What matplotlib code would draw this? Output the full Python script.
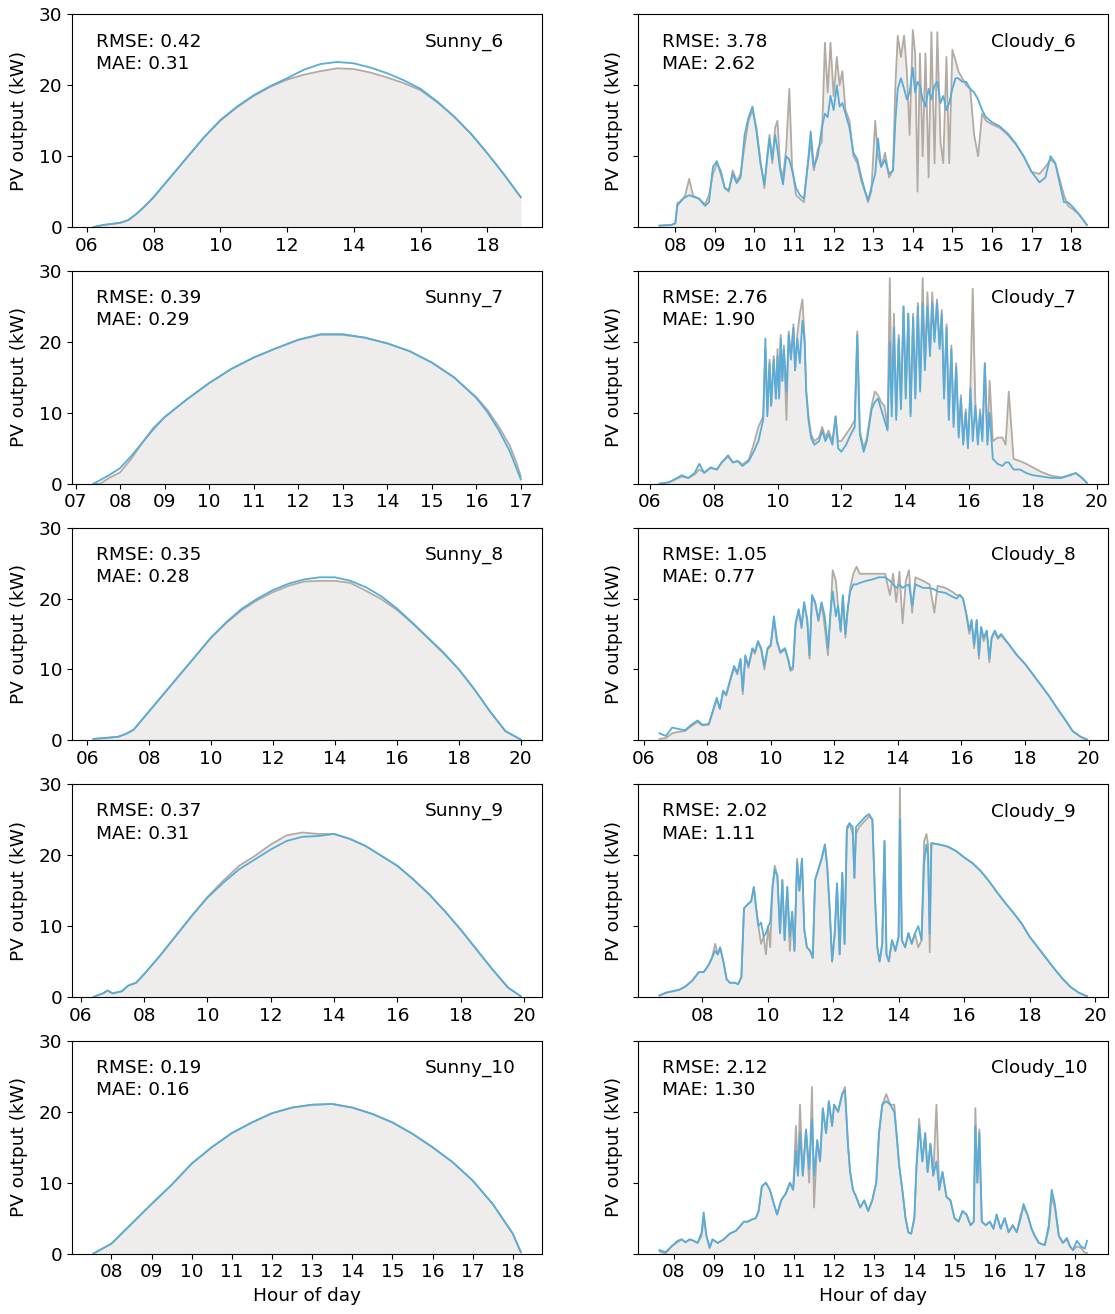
import matplotlib
matplotlib.use("Agg")
import matplotlib.pyplot as plt
from matplotlib.ticker import MultipleLocator, FuncFormatter

plt.rcParams["font.family"] = "DejaVu Sans"
plt.rcParams["font.size"] = 13.3

# ---- sunny days: hour of day, measured output, model output (kW) ----
sunny6_t = [6.2, 6.5, 7.0, 7.25, 7.5, 7.75, 8.0, 8.5, 9.0, 9.5, 10.0, 10.5, 11.0, 11.5, 12.0,
            12.5, 13.0, 13.5, 14.0, 14.5, 15.0, 15.5, 16.0, 16.5, 17.0, 17.5, 18.0, 18.5, 19.0]
sunny6_act = [0.0, 0.3, 0.6, 1.0, 1.9, 3.0, 4.2, 7.0, 9.8, 12.6, 15.0, 16.9, 18.5, 19.8, 20.8,
              21.5, 22.0, 22.4, 22.3, 21.8, 21.1, 20.3, 19.3, 17.6, 15.6, 13.2, 10.4, 7.4, 4.2]
sunny6_pred = [0.0, 0.3, 0.6, 1.0, 1.9, 3.0, 4.2, 7.0, 9.8, 12.6, 15.1, 17.0, 18.6, 19.9, 21.0,
               22.2, 23.0, 23.3, 23.1, 22.5, 21.7, 20.7, 19.5, 17.7, 15.6, 13.2, 10.4, 7.4, 4.2]

sunny7_t = [7.4, 7.55, 7.75, 8.0, 8.25, 8.5, 8.75, 9.0, 9.5, 10.0, 10.5, 11.0, 11.5, 12.0, 12.5,
            13.0, 13.5, 14.0, 14.5, 15.0, 15.5, 16.0, 16.25, 16.5, 16.75, 16.9, 17.0]
sunny7_act = [0.0, 0.0, 0.8, 1.6, 3.5, 5.8, 7.9, 9.4, 11.9, 14.2, 16.2, 17.8, 19.1, 20.3, 21.0,
              21.0, 20.6, 19.8, 18.7, 17.1, 15.0, 12.2, 10.4, 8.1, 5.4, 3.0, 1.0]
sunny7_pred = [0.0, 0.5, 1.2, 2.2, 3.9, 5.8, 7.7, 9.4, 11.9, 14.2, 16.2, 17.8, 19.1, 20.3, 21.1,
               21.1, 20.6, 19.8, 18.7, 17.1, 15.0, 12.1, 10.1, 7.6, 4.6, 2.2, 0.6]

sunny8_t = [6.2, 6.5, 7.0, 7.25, 7.5, 8.0, 8.5, 9.0, 9.5, 10.0, 10.5, 11.0, 11.5, 12.0, 12.5,
            13.0, 13.5, 14.0, 14.5, 15.0, 15.5, 16.0, 16.5, 17.0, 17.5, 18.0, 18.5, 19.0, 19.5, 20.0]
sunny8_act = [0.2, 0.3, 0.5, 0.9, 1.5, 4.1, 6.7, 9.3, 11.9, 14.5, 16.6, 18.4, 19.8, 20.9, 21.8,
              22.4, 22.5, 22.5, 22.2, 21.1, 19.9, 18.4, 16.5, 14.4, 12.3, 10.0, 7.2, 4.1, 1.3, 0.1]
sunny8_pred = [0.2, 0.3, 0.5, 0.9, 1.5, 4.1, 6.7, 9.3, 11.9, 14.5, 16.7, 18.6, 20.0, 21.2, 22.1,
               22.7, 23.0, 23.0, 22.5, 21.6, 20.3, 18.6, 16.6, 14.5, 12.4, 10.0, 7.2, 4.1, 1.3, 0.1]

sunny9_t = [6.4, 6.7, 6.85, 7.0, 7.3, 7.5, 7.75, 8.0, 8.5, 9.0, 9.5, 10.0, 10.5, 11.0, 11.5,
            12.0, 12.5, 13.0, 13.5, 14.0, 14.5, 15.0, 15.5, 16.0, 16.5, 17.0, 17.5, 18.0, 18.5,
            19.0, 19.5, 19.9]
sunny9_act = [0.0, 0.5, 0.9, 0.5, 0.8, 1.6, 2.0, 3.2, 5.8, 8.6, 11.4, 14.1, 16.4, 18.5, 19.9,
              21.5, 22.8, 23.2, 23.0, 23.0, 22.3, 21.3, 19.9, 18.5, 16.6, 14.5, 12.1, 9.5, 6.7,
              3.9, 1.3, 0.1]
sunny9_pred = [0.0, 0.5, 0.9, 0.5, 0.8, 1.6, 2.0, 3.2, 5.8, 8.6, 11.4, 14.0, 16.1, 18.0, 19.4,
               20.8, 22.0, 22.6, 22.7, 23.0, 22.3, 21.3, 19.9, 18.5, 16.6, 14.5, 12.1, 9.5, 6.7,
               3.9, 1.3, 0.1]

sunny10_t = [7.55, 8.0, 8.5, 9.0, 9.5, 10.0, 10.5, 11.0, 11.5, 12.0, 12.5, 13.0, 13.5, 14.0,
             14.5, 15.0, 15.5, 16.0, 16.5, 17.0, 17.5, 18.0, 18.2]
sunny10_act = [0.0, 1.4, 4.2, 7.0, 9.7, 12.7, 15.0, 17.0, 18.5, 19.8, 20.6, 21.0, 21.1, 20.6,
               19.7, 18.5, 16.9, 15.0, 12.9, 10.3, 7.0, 2.8, 0.2]
sunny10_pred = [0.0, 1.4, 4.2, 7.0, 9.7, 12.7, 15.0, 17.0, 18.5, 19.8, 20.6, 21.0, 21.1, 20.6,
                19.7, 18.5, 16.9, 15.0, 12.9, 10.3, 7.0, 2.8, 0.2]

# ---- cloudy days ----
cloudy6_t = [7.6, 7.9, 8.0, 8.05, 8.15, 8.25, 8.35, 8.45, 8.6, 8.75, 8.85, 8.95, 9.05, 9.15, 9.25,
             9.35, 9.45, 9.55, 9.65, 9.75, 9.85, 9.95, 10.05, 10.15, 10.25, 10.32, 10.38, 10.45,
             10.52, 10.58, 10.65, 10.72, 10.8, 10.88, 10.95, 11.05, 11.15, 11.25, 11.35, 11.42,
             11.5, 11.6, 11.7, 11.78, 11.85, 11.92, 12.0, 12.08, 12.15, 12.22, 12.3, 12.4, 12.5,
             12.6, 12.7, 12.8, 12.87, 12.95, 13.05, 13.12, 13.2, 13.3, 13.4, 13.5, 13.56, 13.62,
             13.7, 13.78, 13.85, 13.92, 14.0, 14.06, 14.12, 14.18, 14.25, 14.32, 14.4, 14.47,
             14.55, 14.62, 14.7, 14.77, 14.85, 14.92, 15.0, 15.08, 15.15, 15.25, 15.35, 15.45,
             15.55, 15.65, 15.75, 15.85, 16.0, 16.2, 16.4, 16.6, 16.8, 17.0, 17.2, 17.35, 17.48,
             17.6, 17.72, 17.82, 17.92, 18.05, 18.2, 18.4]
cloudy6_act = [0.2, 0.3, 0.6, 3.4, 3.6, 4.5, 6.8, 4.4, 4.0, 3.2, 4.5, 7.5, 9.0, 8.0, 5.5,
               5.0, 8.0, 6.5, 7.5, 11.5, 15.0, 16.5, 14.0, 9.5, 5.5, 10.0, 13.0, 9.0,
               14.0, 15.0, 8.5, 7.0, 11.0, 19.5, 8.5, 4.5, 4.0, 3.5, 9.0, 12.0,
               8.0, 11.0, 12.0, 26.0, 19.0, 26.0, 18.5, 24.0, 20.0, 22.0, 16.5, 15.0, 10.0,
               9.0, 6.5, 4.8, 3.5, 5.0, 15.0, 10.0, 8.5, 10.5, 7.0, 8.0, 20.0, 27.0,
               24.0, 27.0, 22.0, 13.0, 27.8, 24.5, 5.0, 24.5, 10.0, 24.5, 7.0, 27.5,
               9.0, 27.5, 12.0, 9.0, 24.0, 9.0, 25.0, 23.5, 22.0, 21.0, 20.0, 19.5,
               13.0, 10.0, 16.0, 15.0, 14.5, 14.0, 13.0, 11.7, 10.0, 7.8, 7.5, 8.5, 9.5,
               9.0, 6.5, 4.5, 3.0, 2.5, 1.8, 0.3]
cloudy6_pred = [0.2, 0.3, 0.5, 3.0, 3.8, 4.2, 4.5, 4.3, 4.0, 3.0, 3.5, 8.5, 9.3, 7.5, 5.5,
                5.2, 7.5, 6.2, 7.0, 13.0, 15.5, 17.0, 13.5, 9.0, 6.0, 9.5, 12.5, 9.5,
                13.0, 11.0, 8.0, 6.0, 10.0, 9.5, 8.0, 5.5, 4.5, 4.0, 9.0, 13.5,
                8.5, 10.0, 14.0, 16.0, 15.5, 18.5, 16.5, 20.0, 17.0, 17.5, 16.0, 14.0, 10.5,
                9.5, 7.0, 5.0, 3.8, 5.5, 7.5, 12.5, 8.5, 9.5, 7.5, 8.0, 15.0, 19.5,
                21.0, 19.5, 18.0, 19.0, 22.5, 19.0, 20.5, 20.0, 18.0, 17.0, 19.5, 18.0,
                20.0, 20.5, 17.5, 18.5, 16.5, 17.5, 19.5, 21.0, 21.0, 20.5, 20.5, 19.5,
                19.0, 18.0, 16.5, 15.5, 14.8, 14.2, 13.2, 11.8, 10.0, 7.8, 6.3, 7.0, 10.0,
                9.0, 6.0, 3.5, 3.5, 2.8, 1.8, 0.3]

cloudy7_t = [6.3, 6.6, 7.0, 7.2, 7.4, 7.55, 7.7, 7.9, 8.1, 8.25, 8.45, 8.6, 8.75, 8.9, 9.1,
             9.25, 9.4, 9.55, 9.62, 9.68, 9.75, 9.8, 9.88, 9.95, 10.0, 10.05, 10.1, 10.15, 10.2,
             10.28, 10.35, 10.42, 10.5, 10.55, 10.62, 10.7, 10.78, 10.85, 10.9, 10.97, 11.05,
             11.15, 11.3, 11.4, 11.5, 11.6, 11.72, 11.82, 11.9, 12.0, 12.15, 12.3, 12.42, 12.5,
             12.58, 12.7, 12.8, 12.95, 13.05, 13.15, 13.25, 13.35, 13.45, 13.52, 13.58, 13.65,
             13.72, 13.8, 13.87, 13.95, 14.02, 14.1, 14.17, 14.25, 14.32, 14.4, 14.47, 14.55,
             14.62, 14.7, 14.78, 14.85, 14.92, 15.0, 15.08, 15.15, 15.22, 15.3, 15.37, 15.45,
             15.52, 15.6, 15.68, 15.75, 15.82, 15.9, 15.97, 16.05, 16.12, 16.2, 16.28, 16.35,
             16.42, 16.5, 16.58, 16.65, 16.75, 16.9, 17.05, 17.15, 17.25, 17.4, 17.6, 17.8,
             18.0, 18.3, 18.6, 18.9, 19.2, 19.35, 19.55, 19.7]
cloudy7_act = [0.0, 0.2, 1.0, 0.8, 1.3, 2.0, 1.6, 2.2, 2.0, 3.0, 3.8, 3.0, 3.2, 2.7, 3.4,
               5.5, 8.0, 9.5, 19.0, 10.0, 17.5, 11.0, 18.0, 12.0, 19.0, 12.5, 21.0, 14.5, 19.5,
               9.0, 21.5, 18.0, 22.5, 16.0, 21.0, 24.0, 26.0, 20.5, 13.0, 9.5, 7.0,
               6.0, 6.5, 8.0, 6.5, 7.5, 6.0, 9.5, 6.0, 6.0, 7.0, 8.0, 9.0, 21.5,
               7.5, 5.0, 6.5, 11.0, 13.0, 12.5, 11.5, 11.0, 8.0, 29.0, 11.0, 24.0,
               9.5, 21.0, 11.0, 25.0, 12.5, 24.0, 10.0, 24.0, 12.5, 25.5, 13.5, 29.0,
               16.5, 27.0, 18.5, 27.0, 20.5, 26.0, 19.5, 24.5, 12.5, 22.5, 9.5, 19.5,
               8.5, 17.0, 7.0, 12.5, 6.0, 10.5, 5.5, 14.0, 27.5, 11.5, 6.0, 10.5,
               6.5, 17.0, 6.0, 14.5, 6.0, 6.5, 6.5, 5.5, 13.0, 3.5, 3.2, 2.8,
               2.3, 1.6, 1.1, 0.9, 1.2, 1.5, 0.8, 0.1]
cloudy7_pred = [0.0, 0.2, 1.2, 0.8, 1.5, 2.8, 1.5, 2.3, 2.0, 3.0, 4.0, 3.0, 3.2, 2.5, 3.2,
                4.5, 6.0, 9.0, 20.5, 9.5, 17.0, 11.0, 17.5, 12.0, 18.0, 12.0, 20.5, 14.5, 19.0,
                13.0, 21.0, 17.5, 22.0, 16.0, 20.5, 17.0, 23.0, 20.0, 13.0, 9.0, 6.5,
                5.5, 6.0, 7.5, 6.0, 7.0, 5.5, 9.5, 5.0, 4.5, 5.5, 7.0, 8.0, 21.0,
                7.0, 4.5, 6.0, 10.5, 11.5, 12.0, 10.5, 9.0, 7.5, 20.0, 9.5, 22.0,
                9.0, 20.5, 10.5, 25.0, 12.0, 24.0, 9.5, 23.5, 12.0, 25.0, 13.0, 25.5,
                16.0, 25.0, 18.0, 25.5, 20.0, 25.5, 19.0, 24.0, 12.0, 22.0, 9.0, 19.0,
                8.0, 16.5, 6.5, 12.0, 5.5, 10.0, 5.0, 13.5, 6.0, 11.0, 5.5, 10.0,
                6.0, 17.0, 5.5, 10.0, 3.5, 2.8, 2.5, 3.0, 3.0, 2.0, 2.0, 1.5,
                1.2, 1.0, 0.8, 0.8, 1.3, 1.5, 0.8, 0.1]

cloudy8_t = [6.5, 6.7, 6.9, 7.1, 7.3, 7.5, 7.7, 7.85, 8.05, 8.2, 8.3, 8.4, 8.5, 8.6, 8.75,
             8.85, 8.95, 9.05, 9.12, 9.2, 9.3, 9.42, 9.5, 9.6, 9.7, 9.8, 9.9, 10.0, 10.1,
             10.2, 10.3, 10.45, 10.55, 10.62, 10.7, 10.78, 10.88, 10.97, 11.05, 11.15, 11.22,
             11.3, 11.4, 11.5, 11.6, 11.7, 11.8, 11.88, 11.95, 12.05, 12.12, 12.2, 12.27, 12.35,
             12.42, 12.5, 12.6, 12.7, 12.8, 13.0, 13.2, 13.4, 13.6, 13.75, 13.85, 13.95, 14.05,
             14.15, 14.25, 14.35, 14.45, 14.55, 14.8, 15.0, 15.15, 15.25, 15.5, 15.7, 15.85,
             15.95, 16.05, 16.15, 16.25, 16.32, 16.4, 16.48, 16.55, 16.62, 16.7, 16.8, 16.88,
             16.95, 17.05, 17.15, 17.25, 17.5, 17.75, 18.0, 18.25, 18.5, 18.75, 19.0, 19.25,
             19.5, 19.75, 19.95]
cloudy8_act = [0.2, 0.3, 1.0, 1.2, 1.3, 2.0, 2.6, 2.1, 2.2, 4.3, 5.8, 4.4, 6.8, 6.3, 8.8,
               10.2, 9.3, 11.2, 6.5, 11.8, 10.2, 12.8, 12.2, 13.8, 12.8, 10.0, 12.8, 13.3, 17.0,
               13.8, 12.3, 12.8, 11.3, 9.8, 10.0, 16.2, 18.3, 15.8, 19.3, 16.8, 11.5,
               20.3, 19.3, 16.8, 19.3, 16.0, 12.0, 17.8, 24.0, 22.5, 18.8, 15.3, 20.3, 14.5,
               18.3, 21.5, 23.5, 24.5, 23.5, 23.5, 23.5, 23.5, 23.5, 20.5, 23.5, 19.5, 23.8,
               16.5, 22.5, 24.0, 18.0, 23.0, 22.5, 22.0, 18.0, 21.8, 21.5, 21.0, 20.5,
               20.5, 20.0, 17.8, 15.0, 16.8, 13.0, 16.8, 11.5, 15.8, 14.0, 15.3, 11.0,
               14.3, 15.3, 14.3, 14.8, 13.5, 12.0, 10.8, 9.3, 7.8, 6.3, 4.6, 3.0,
               1.3, 0.5, 0.1]
cloudy8_pred = [1.0, 0.6, 1.8, 1.6, 1.4, 2.2, 2.8, 2.2, 2.3, 4.5, 6.0, 4.5, 7.0, 6.5, 9.0,
                10.5, 9.5, 11.5, 7.0, 12.0, 10.5, 13.0, 12.5, 14.0, 13.0, 10.5, 13.0, 13.5, 17.5,
                14.0, 12.5, 13.0, 11.5, 10.0, 10.4, 16.5, 18.5, 16.0, 19.5, 17.0, 12.0,
                20.5, 19.5, 17.0, 19.5, 17.5, 13.0, 18.0, 21.0, 17.5, 19.0, 15.5, 20.5, 15.0,
                18.5, 21.0, 22.0, 22.0, 22.2, 22.5, 22.7, 23.0, 23.0, 22.5, 22.0, 21.5, 22.0,
                21.5, 21.8, 22.0, 19.0, 22.0, 21.5, 21.5, 21.3, 21.0, 20.8, 20.3, 20.0,
                20.5, 20.0, 18.0, 15.5, 17.0, 13.5, 17.0, 12.0, 16.0, 14.5, 15.5, 11.5,
                14.5, 15.5, 14.5, 15.0, 13.5, 12.0, 10.8, 9.3, 7.8, 6.3, 4.6, 3.0,
                1.3, 0.5, 0.1]

cloudy9_t = [6.7, 6.9, 7.1, 7.3, 7.5, 7.7, 7.9, 8.05, 8.2, 8.3, 8.4, 8.48, 8.55, 8.65, 8.75,
             8.85, 9.0, 9.1, 9.2, 9.28, 9.38, 9.5, 9.58, 9.65, 9.72, 9.8, 9.88, 9.95, 10.02,
             10.08, 10.15, 10.22, 10.3, 10.38, 10.45, 10.52, 10.6, 10.68, 10.75, 10.82, 10.9,
             10.97, 11.05, 11.12, 11.2, 11.3, 11.38, 11.45, 11.55, 11.65, 11.75, 11.82, 11.9,
             11.97, 12.05, 12.12, 12.2, 12.28, 12.35, 12.42, 12.5, 12.6, 12.65, 12.7, 12.8,
             12.9, 13.0, 13.1, 13.2, 13.28, 13.35, 13.42, 13.5, 13.57, 13.63, 13.7, 13.8, 13.9,
             14.0, 14.04, 14.1, 14.2, 14.3, 14.4, 14.5, 14.6, 14.7, 14.78, 14.85, 14.9, 14.95,
             15.0, 15.25, 15.5, 15.75, 16.0, 16.25, 16.5, 16.75, 17.0, 17.25, 17.5, 17.75,
             18.0, 18.25, 18.5, 18.75, 19.0, 19.25, 19.5, 19.75]
cloudy9_act = [0.2, 0.6, 0.8, 1.0, 1.5, 2.3, 3.5, 3.5, 4.5, 5.5, 7.5, 6.0, 7.0, 5.0, 2.5,
               2.0, 2.0, 1.8, 2.8, 12.5, 13.0, 13.5, 15.5, 12.5, 10.0, 7.5, 8.5, 6.0, 10.0,
               7.0, 15.5, 18.5, 17.0, 9.0, 16.5, 8.0, 15.5, 6.5, 12.0, 6.5, 19.5,
               15.0, 19.5, 9.5, 7.0, 6.5, 5.5, 16.5, 18.0, 19.5, 21.5, 18.5, 12.0,
               5.0, 9.0, 16.0, 6.0, 17.5, 7.5, 24.0, 24.5, 23.0, 16.8, 23.0, 24.0,
               24.5, 25.0, 25.5, 25.0, 14.0, 7.0, 5.0, 7.5, 22.0, 6.0, 5.0, 8.0, 6.5,
               8.5, 29.5, 8.0, 7.0, 9.0, 7.5, 9.0, 7.0, 8.0, 22.0, 23.0, 21.5, 6.3,
               21.7, 21.5, 21.2, 20.6, 19.7, 18.9, 17.8, 16.4, 14.8, 13.3, 11.9, 10.4,
               8.5, 7.0, 5.5, 4.0, 2.6, 1.4, 0.6, 0.1]
cloudy9_pred = [0.2, 0.6, 0.8, 1.0, 1.5, 2.3, 3.5, 3.5, 4.5, 5.5, 6.5, 6.0, 7.0, 5.0, 2.5,
                2.0, 2.0, 1.8, 2.8, 12.5, 13.0, 13.5, 15.5, 12.5, 10.0, 10.5, 8.5, 9.0, 10.0,
                10.5, 15.5, 18.0, 17.0, 9.0, 16.5, 8.0, 15.5, 8.5, 12.0, 6.5, 19.0,
                15.0, 19.5, 9.5, 7.0, 6.5, 5.5, 16.5, 18.0, 19.5, 21.5, 18.5, 12.0,
                5.0, 9.0, 16.0, 6.0, 17.5, 7.5, 23.5, 24.5, 24.0, 16.8, 24.0, 24.5,
                25.0, 25.5, 25.8, 25.0, 14.0, 7.0, 5.0, 7.5, 22.0, 6.0, 5.0, 8.0, 6.5,
                8.5, 25.0, 8.0, 7.0, 9.0, 7.5, 9.0, 10.0, 8.0, 19.0, 21.5, 20.0, 8.9,
                21.7, 21.5, 21.2, 20.6, 19.7, 18.9, 17.8, 16.4, 14.8, 13.3, 11.9, 10.4,
                8.5, 7.0, 5.5, 4.0, 2.6, 1.4, 0.6, 0.1]

cloudy10_t = [7.65, 7.8, 7.95, 8.1, 8.2, 8.3, 8.4, 8.5, 8.6, 8.7, 8.75, 8.82, 8.9, 8.97, 9.1,
              9.25, 9.4, 9.55, 9.65, 9.75, 9.85, 9.95, 10.05, 10.12, 10.2, 10.3, 10.4, 10.5,
              10.58, 10.68, 10.8, 10.9, 10.98, 11.05, 11.1, 11.15, 11.22, 11.3, 11.38, 11.45,
              11.5, 11.58, 11.65, 11.72, 11.8, 11.87, 11.95, 12.0, 12.1, 12.2, 12.27, 12.35,
              12.4, 12.47, 12.55, 12.65, 12.75, 12.85, 12.95, 13.05, 13.12, 13.2, 13.3, 13.4,
              13.5, 13.57, 13.62, 13.7, 13.78, 13.85, 13.92, 14.0, 14.05, 14.12, 14.2, 14.27,
              14.33, 14.4, 14.47, 14.55, 14.62, 14.7, 14.8, 14.9, 15.0, 15.1, 15.2, 15.3, 15.4,
              15.48, 15.52, 15.57, 15.62, 15.68, 15.78, 15.88, 15.97, 16.05, 16.15, 16.25, 16.35,
              16.45, 16.55, 16.65, 16.72, 16.82, 16.92, 17.0, 17.1, 17.25, 17.35, 17.42, 17.5,
              17.6, 17.7, 17.8, 17.88, 17.95, 18.05, 18.15, 18.25, 18.3]
cloudy10_act = [0.3, 0.0, 1.0, 1.6, 2.0, 1.6, 2.0, 1.8, 1.5, 2.5, 5.0, 2.5, 0.8, 2.0, 1.5,
                2.0, 2.8, 3.2, 3.8, 4.5, 4.5, 4.8, 5.0, 6.0, 9.5, 10.0, 9.0, 7.0,
                5.5, 7.5, 8.5, 10.0, 9.0, 18.0, 11.0, 21.0, 11.0, 17.5, 10.0, 23.5,
                6.5, 16.0, 13.0, 20.5, 17.0, 21.5, 18.0, 21.0, 20.0, 22.5, 23.5, 15.0,
                11.5, 9.0, 8.0, 6.5, 7.5, 6.0, 7.5, 10.0, 17.0, 21.0, 22.5, 21.0,
                21.0, 16.0, 12.5, 9.0, 5.0, 3.0, 2.8, 5.0, 12.0, 19.0, 13.0, 17.0,
                11.5, 15.5, 11.0, 21.0, 9.0, 11.5, 8.0, 7.5, 5.0, 4.5, 6.0, 5.5, 4.0,
                4.5, 20.5, 10.0, 17.5, 4.5, 4.0, 4.5, 3.5, 5.5, 3.5, 5.0, 3.0,
                4.0, 3.0, 5.5, 6.5, 5.5, 3.5, 2.5, 1.5, 1.2, 3.5, 8.0, 6.5,
                2.5, 1.5, 2.0, 1.0, 0.5, 1.0, 0.8, 0.1, 0.1]
cloudy10_pred = [0.5, 0.2, 1.0, 1.8, 2.0, 1.6, 2.0, 1.8, 1.5, 3.0, 5.8, 2.5, 0.8, 2.0, 1.5,
                 2.0, 2.8, 3.2, 3.8, 4.5, 4.5, 4.8, 5.0, 6.0, 9.5, 10.0, 9.0, 7.0,
                 5.5, 7.5, 8.5, 10.0, 9.0, 14.5, 11.0, 17.0, 11.0, 17.5, 12.0, 19.0,
                 11.0, 16.0, 13.0, 20.5, 17.0, 21.5, 18.0, 21.0, 20.0, 22.5, 23.0, 15.0,
                 11.5, 9.0, 8.0, 6.5, 7.5, 6.0, 7.5, 10.0, 17.0, 21.0, 21.5, 21.0,
                 20.0, 16.0, 12.5, 9.0, 5.0, 3.0, 2.8, 5.0, 12.0, 18.0, 13.0, 17.0,
                 11.5, 15.5, 11.0, 13.0, 9.0, 11.5, 8.0, 7.5, 5.0, 4.5, 6.0, 5.5, 4.0,
                 4.5, 18.0, 10.0, 17.0, 4.5, 4.0, 4.5, 3.5, 5.5, 3.5, 5.0, 3.0,
                 4.0, 3.0, 5.0, 7.0, 5.5, 3.5, 2.5, 1.5, 1.2, 4.0, 9.0, 7.0,
                 2.5, 1.5, 2.2, 1.0, 0.5, 1.8, 1.0, 0.7, 1.8]

errors_rmse = {"Sunny_6": 0.42, "Sunny_7": 0.39, "Sunny_8": 0.35, "Sunny_9": 0.37, "Sunny_10": 0.19,
               "Cloudy_6": 3.78, "Cloudy_7": 2.76, "Cloudy_8": 1.05, "Cloudy_9": 2.02, "Cloudy_10": 2.12}
errors_mae = {"Sunny_6": 0.31, "Sunny_7": 0.29, "Sunny_8": 0.28, "Sunny_9": 0.31, "Sunny_10": 0.16,
              "Cloudy_6": 2.62, "Cloudy_7": 1.90, "Cloudy_8": 0.77, "Cloudy_9": 1.11, "Cloudy_10": 1.30}

# (name, time, actual, predicted, tick step in hours)
panels = [
    [("Sunny_6", sunny6_t, sunny6_act, sunny6_pred, 2),
     ("Cloudy_6", cloudy6_t, cloudy6_act, cloudy6_pred, 1)],
    [("Sunny_7", sunny7_t, sunny7_act, sunny7_pred, 1),
     ("Cloudy_7", cloudy7_t, cloudy7_act, cloudy7_pred, 2)],
    [("Sunny_8", sunny8_t, sunny8_act, sunny8_pred, 2),
     ("Cloudy_8", cloudy8_t, cloudy8_act, cloudy8_pred, 2)],
    [("Sunny_9", sunny9_t, sunny9_act, sunny9_pred, 2),
     ("Cloudy_9", cloudy9_t, cloudy9_act, cloudy9_pred, 2)],
    [("Sunny_10", sunny10_t, sunny10_act, sunny10_pred, 1),
     ("Cloudy_10", cloudy10_t, cloudy10_act, cloudy10_pred, 1)],
]

fill_color = "#eeedec"
actual_color = "#b3aba3"
pred_color = "#58acd7"

fig, axes = plt.subplots(5, 2, figsize=(11.15, 13.14), dpi=100)
fig.subplots_adjust(left=0.0646, right=0.994, top=0.989, bottom=0.046, hspace=0.207, wspace=0.204)

hour_fmt = FuncFormatter(lambda v, pos: "%02d" % int(round(v)))

for r, row in enumerate(panels):
    for c, (name, t, act, pred, step) in enumerate(row):
        ax = axes[r, c]
        ax.fill_between(t, act, 0, color=fill_color, lw=0)
        ax.plot(t, act, color=actual_color, lw=1.3)
        ax.plot(t, pred, color=pred_color, lw=1.3)
        ax.set_ylim(0, 30)
        ax.set_yticks([0, 10, 20, 30])
        if c == 1:
            ax.set_yticklabels([])
            ax.set_ylabel("PV output (kW)")
        else:
            ax.set_ylabel("PV output (kW)", labelpad=8)
        ax.xaxis.set_major_locator(MultipleLocator(step))
        ax.xaxis.set_major_formatter(hour_fmt)
        ax.text(0.05, 0.915, "RMSE: %.2f\nMAE: %.2f" % (errors_rmse[name], errors_mae[name]),
                transform=ax.transAxes, ha="left", va="top", linespacing=1.3)
        ax.text(0.75, 0.915, name, transform=ax.transAxes, ha="left", va="top")
        if r == 4:
            ax.set_xlabel("Hour of day")

fig.savefig("out.png", dpi=100)
